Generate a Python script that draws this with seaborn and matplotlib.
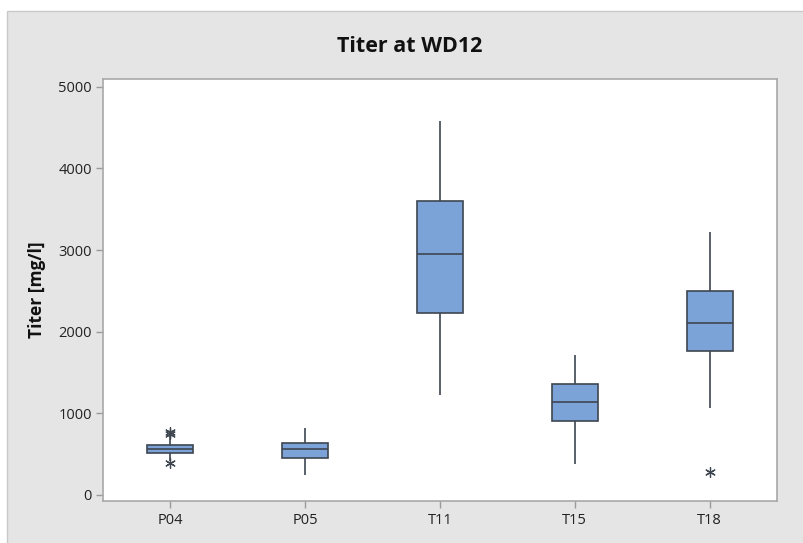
import numpy as np
import pandas as pd
import matplotlib
matplotlib.use("Agg")
import matplotlib.pyplot as plt
from matplotlib.patches import Rectangle
import seaborn as sns

# Titer summary per clone (mg/l)
groups = ["P04", "P05", "T11", "T15", "T18"]
whisker_low = [420, 245, 1224, 380, 1069]
q1 = [518, 449, 2225, 902, 1760]
median = [563, 560, 2951, 1143, 2102]
q3 = [612, 633, 3600, 1355, 2502]
whisker_high = [735, 824, 4583, 1714, 3224]

# Outlying observations
outlier_groups = ["P04", "P04", "P04", "T18"]
outlier_values = [768, 745, 388, 285]

title = "Titer at WD12"
y_label = "Titer [mg/l]"
y_ticks = [0, 1000, 2000, 3000, 4000, 5000]

# Long-form table: each group's five-number summary (quartiles doubled so the
# interpolated percentiles land exactly on q1 / q3)
rows = []
for g, lo, a, m, b, hi in zip(groups, whisker_low, q1, median, q3, whisker_high):
    for v in (lo, a, a, m, b, b, hi):
        rows.append({"group": g, "titer": v})
df = pd.DataFrame(rows)
out_df = pd.DataFrame({"group": outlier_groups, "titer": outlier_values})

sns.set_theme(style="white")
plt.rcParams["font.family"] = ["Open Sans", "DejaVu Sans"]

fig = plt.figure(figsize=(8.04, 5.43), dpi=100, facecolor="white")
panel = Rectangle((7 / 804, -0.01), 1.0, 1 - 11 / 543 + 0.01,
                  transform=fig.transFigure, facecolor="#e5e5e5",
                  edgecolor="#c9c9c9", linewidth=1.0, zorder=-10)
fig.patches.append(panel)
ax = fig.add_axes([103 / 804, 1 - 501 / 543, (777 - 103) / 804, (501 - 79) / 543])
ax.set_facecolor("white")

box_fill = "#7ba3d7"
line_col = "#3e4650"
sns.boxplot(data=df, x="group", y="titer", order=groups, ax=ax,
            color=box_fill, linecolor=line_col, linewidth=1.2, width=0.34,
            whis=(0, 100), showcaps=False, showfliers=False, saturation=1)
sns.stripplot(data=out_df, x="group", y="titer", order=groups, ax=ax,
              jitter=False, marker=(6, 2, 0), color=line_col, size=7,
              linewidth=0.9, edgecolor=line_col)

ax.set_xlim(-0.5, 4.5)
ax.set_ylim(-75, 5095)
ax.set_yticks(y_ticks)
ax.set_yticklabels([str(t) for t in y_ticks])
ax.set_xlabel("")
ax.set_ylabel(y_label, fontsize=12.5, fontweight="bold", color="#111111", labelpad=9)
ax.tick_params(axis="both", which="both", direction="out", length=5, width=1,
               color="#9a9a9a", labelsize=10.5, labelcolor="#222222", pad=3)
ax.tick_params(axis="x", bottom=True, pad=4)
ax.tick_params(axis="y", left=True)
for s in ax.spines.values():
    s.set_visible(True)
    s.set_color("#a8a8a8")
    s.set_linewidth(1.2)

fig.text(410 / 804, 1 - 47 / 543, title, ha="center", va="center",
         fontsize=15.5, fontweight="bold", color="#111111")

fig.savefig("out.png", dpi=100, facecolor="white")
